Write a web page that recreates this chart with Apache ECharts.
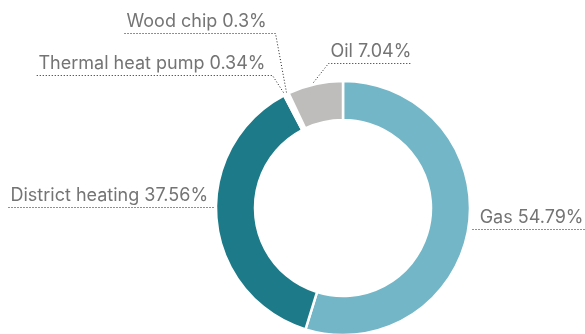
<!DOCTYPE html>
<html>
<head>
<meta charset="utf-8">
<script src="https://cdn.jsdelivr.net/npm/echarts@6/dist/echarts.min.js"></script>
<style>
  html, body { margin: 0; padding: 0; background: #fff; }
  #main { width: 585px; height: 334px; }
</style>
</head>
<body>
<div id="main"></div>
<script>
// heating source shares (%)
const categories = ["Gas", "District heating", "Thermal heat pump", "Wood chip", "Oil"];
const shares = [54.79, 37.56, 0.34, 0.3, 7.04];
const sliceColors = ["#73b6c7", "#1d7a88", "#ffffff", "#ffffff", "#bebdbc"];

// leader line shape per label, relative to the slice edge point the library gives
const leaderStart = [[3, 2], [-3.5, -12.5], [-2, -3], [-2, -2], [-2, -2]];
const leaderElbow = [[3, 2], [-3.5, -12.5], [-13, -20], [-12.7, -60.7], [13, -21]];
const leaderRun = [113, -205, -236, -151, 82];

const mainEl = document.getElementById("main");
let charts = echarts.init(mainEl);

// snap to pixel centres so the 1px dotted lines stay crisp
const snap = (v) => Math.round(v) + 0.5;

const option = {
    animation: false,
    series: [
        {
            type: "pie",
            center: [343, 208],
            radius: [88, 127],
            startAngle: 90,
            avoidLabelOverlap: false,
            silent: true,
            itemStyle: {
                borderColor: "#ffffff",
                borderWidth: 2.5
            },
            label: {
                show: true,
                position: "outside",
                formatter: "{b} {c}%",
                color: "#747474",
                fontFamily: "Inter",
                fontSize: 18
            },
            labelLine: {
                show: true,
                lineStyle: {
                    color: "#222222",
                    width: 1,
                    type: [1, 2]
                }
            },
            labelLayout: (params) => {
                const i = params.dataIndex;
                const p0 = params.labelLinePoints[0];
                const a = [snap(p0[0] + leaderStart[i][0]), snap(p0[1] + leaderStart[i][1])];
                const b = [snap(p0[0] + leaderElbow[i][0]), snap(p0[1] + leaderElbow[i][1])];
                const c = [b[0] + leaderRun[i], b[1]];
                const toLeft = leaderRun[i] < 0;
                return {
                    x: toLeft ? c[0] + 2 : (i === 0 ? c[0] - 2 : b[0] + 2),
                    y: c[1] - 3,
                    align: toLeft ? "left" : (i === 0 ? "right" : "left"),
                    verticalAlign: "bottom",
                    labelLinePoints: [a, b, c]
                };
            },
            data: categories.map((name, i) => ({
                name: name,
                value: shares[i],
                itemStyle: { color: sliceColors[i] }
            }))
        }
    ]
};

charts.setOption(option);
</script>
</body>
</html>
